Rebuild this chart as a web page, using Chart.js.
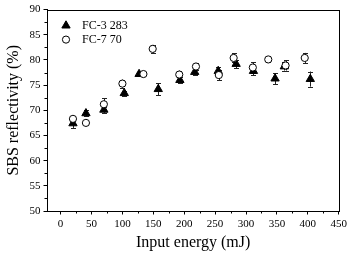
<!DOCTYPE html>
<html><head><meta charset="utf-8">
<script src="https://cdn.jsdelivr.net/npm/chart.js@4.4.1/dist/chart.umd.min.js"></script>
<style>html,body{margin:0;padding:0;background:#fff}#wrap{width:350px;height:254px}</style>
</head><body><div id="wrap"><canvas id="c" width="350" height="254"></canvas></div>
<script>
const seriesNames = ['FC-3 283', 'FC-7 70'];
const fc3283X = [20, 41, 70, 103, 127, 158, 193, 217, 255, 284, 312, 347, 362, 404];
const fc3283Y = [67.4, 69.4, 70.1, 73.4, 77.2, 74.2, 76.0, 77.6, 77.8, 79.2, 77.8, 76.3, 78.7, 76.2];
const fc3283Err = [0.9, 0.6, 0.6, 0.5, 0.4, 1.2, 0.6, 0.5, 0.8, 0.8, 0.8, 1.1, 0.8, 1.5];
const fc770X = [20, 41, 70, 100, 134, 149, 192, 219, 256, 280, 311, 336, 364, 395];
const fc770Y = [68.3, 67.5, 71.2, 75.3, 77.2, 82.2, 77.1, 78.7, 77.0, 80.4, 78.5, 80.1, 78.9, 80.4];
const fc770Err = [0.5, 0.4, 1.2, 0.8, 0.4, 0.8, 0.8, 0.6, 1.0, 0.9, 1.0, 0.5, 1.0, 1.0];
const xTicks = [0, 50, 100, 150, 200, 250, 300, 350, 400, 450];
const yTicks = [50, 55, 60, 65, 70, 75, 80, 85, 90];

const FONT = "'Liberation Serif','Times New Roman',serif";
const toPts = (xs, ys) => xs.map((x, i) => ({x: x, y: ys[i]}));
const errs = [fc3283Err, fc770Err];

const errPlugin = {
  id: 'err',
  beforeDatasetsDraw(chart) {
    const ctx = chart.ctx, xs = chart.scales.x, ys = chart.scales.y;
    ctx.save();
    ctx.strokeStyle = '#222'; ctx.lineWidth = 1;
    chart.data.datasets.forEach((ds, di) => {
      ds.data.forEach((p, j) => {
        const e = errs[di][j];
        const px = Math.round(xs.getPixelForValue(p.x)) + 0.5;
        const y1 = ys.getPixelForValue(p.y - e), y2 = ys.getPixelForValue(p.y + e);
        ctx.beginPath();
        ctx.moveTo(px, y1); ctx.lineTo(px, y2);
        ctx.moveTo(px - 2.5, Math.round(y1) + 0.5); ctx.lineTo(px + 2.5, Math.round(y1) + 0.5);
        ctx.moveTo(px - 2.5, Math.round(y2) + 0.5); ctx.lineTo(px + 2.5, Math.round(y2) + 0.5);
        ctx.stroke();
      });
    });
    ctx.restore();
  },
  afterDraw(chart) {
    const ctx = chart.ctx, a = chart.chartArea, xs = chart.scales.x, ys = chart.scales.y;
    ctx.save();
    ctx.strokeStyle = '#000'; ctx.lineWidth = 1;
    ctx.strokeRect(Math.round(a.left) + 0.5, Math.round(a.top) + 0.5, Math.round(a.right - a.left), Math.round(a.bottom - a.top));
    ctx.beginPath();
    for (let i = 0; i < xTicks.length - 1; i++) {
      const px = Math.round(xs.getPixelForValue((xTicks[i] + xTicks[i + 1]) / 2)) + 0.5;
      ctx.moveTo(px, a.bottom); ctx.lineTo(px, a.bottom + 2.5);
    }
    for (let i = 0; i < yTicks.length - 1; i++) {
      const py = Math.round(ys.getPixelForValue((yTicks[i] + yTicks[i + 1]) / 2)) + 0.5;
      ctx.moveTo(a.left, py); ctx.lineTo(a.left - 2.5, py);
    }
    ctx.stroke();
    const items = chart.data.datasets;
    items.forEach((ds, i) => {
      const lx = a.left + 19, ly = a.top + 16 + i * 14;
      ctx.fillStyle = ds.backgroundColor; ctx.strokeStyle = ds.borderColor; ctx.lineWidth = 1;
      Chart.helpers.drawPoint(ctx, {pointStyle: ds.pointStyle, radius: ds.pointRadius, borderWidth: 1}, lx, ly);
      ctx.fillStyle = '#000';
      ctx.font = '12px ' + FONT;
      ctx.textBaseline = 'middle'; ctx.textAlign = 'left';
      ctx.fillText(ds.label, lx + 16, ly);
    });
    ctx.restore();
  }
};

new Chart(document.getElementById('c'), {
  type: 'scatter',
  data: {
    datasets: [
      {label: seriesNames[0], data: toPts(fc3283X, fc3283Y), pointStyle: 'triangle', pointRadius: 4.8,
       backgroundColor: '#000', borderColor: '#000', borderWidth: 1, order: 1},
      {label: seriesNames[1], data: toPts(fc770X, fc770Y), pointStyle: 'circle', pointRadius: 3.6,
       backgroundColor: '#fff', borderColor: '#000', borderWidth: 1, order: 0}
    ]
  },
  options: {
    responsive: false, animation: false, devicePixelRatio: 1,
    layout: {padding: {top: 5, right: 9, left: 0, bottom: 0}},
    plugins: {legend: {display: false}, tooltip: {enabled: false}},
    scales: {
      x: {
        type: 'linear', min: -22, max: 451,
        afterBuildTicks: s => { s.ticks = xTicks.map(v => ({value: v})); },
        afterFit: s => { s.height = 43; },
        grid: {display: true, drawOnChartArea: false, drawTicks: true, tickLength: 3.5, color: '#000'},
        border: {display: true, color: '#000', width: 1},
        ticks: {color: '#000', font: {family: FONT, size: 11}, padding: 3, maxRotation: 0},
        title: {display: true, text: 'Input energy (mJ)', color: '#000', font: {family: FONT, size: 16}, padding: {top: 0, bottom: 2}}
      },
      y: {
        type: 'linear', min: 50, max: 90,
        afterBuildTicks: s => { s.ticks = yTicks.map(v => ({value: v})); },
        afterFit: s => { s.width = 47; },
        grid: {display: true, drawOnChartArea: false, drawTicks: true, tickLength: 3.5, color: '#000'},
        border: {display: true, color: '#000', width: 1},
        ticks: {color: '#000', font: {family: FONT, size: 11}, padding: 3},
        title: {display: true, text: 'SBS reflectivity (%)', color: '#000', font: {family: FONT, size: 16}, padding: {top: 4, bottom: 0}}
      }
    }
  },
  plugins: [errPlugin]
});
</script></body></html>
